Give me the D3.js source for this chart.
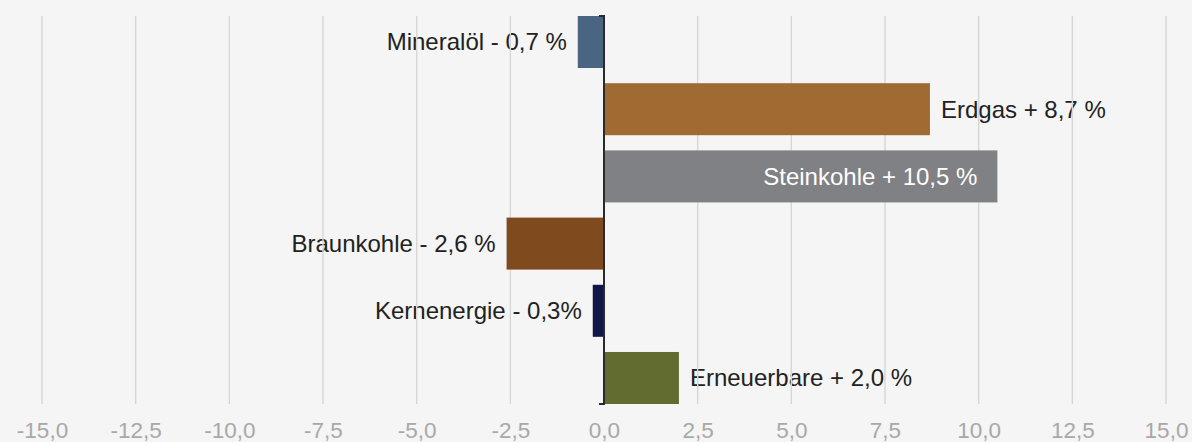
<!DOCTYPE html>
<html>
<head>
<meta charset="utf-8">
<script src="https://cdn.jsdelivr.net/npm/d3@7"></script>
<style>
  html, body { margin: 0; padding: 0; background: #f4f5f4; }
  svg { display: block; font-family: Arial, "Liberation Sans", sans-serif; }
</style>
</head>
<body>
<div id="chart"></div>
<script>
// energy sources and their change in percent
const categories = ["Mineralöl", "Erdgas", "Steinkohle", "Braunkohle", "Kernenergie", "Erneuerbare"];
const values = [-0.7, 8.7, 10.5, -2.6, -0.3, 2.0];
const labels = ["Mineralöl - 0,7 %", "Erdgas + 8,7 %", "Steinkohle + 10,5 %", "Braunkohle - 2,6 %", "Kernenergie - 0,3%", "Erneuerbare + 2,0 %"];
const colors = ["#4a6582", "#a06b33", "#808184", "#7e4a1e", "#0f174a", "#636c30"];
const insideLabel = ["Steinkohle"];
const tickValues = [-15, -12.5, -10, -7.5, -5, -2.5, 0, 2.5, 5, 7.5, 10, 12.5, 15];

const width = 1192, height = 442;

const svg = d3.select("#chart").append("svg")
    .attr("width", width)
    .attr("height", height);

svg.append("rect").attr("width", width).attr("height", height).attr("fill", "#f4f5f4");

const x = d3.scaleLinear().domain([-15, 15]).range([42, 1166]);
const y = d3.scaleBand().domain(categories).range([16, 404]).paddingInner(0.226).paddingOuter(0);

// German decimal comma, plain hyphen for minus
const fmt = v => d3.format(".1f")(v).replace(".", ",").replace("\u2212", "-");

// outside labels (drawn first, the grid lines sit on top of them)
svg.append("g")
    .selectAll("text")
    .data(categories.filter(d => !insideLabel.includes(d)))
    .enter().append("text")
    .attr("y", d => y(d) + y.bandwidth() / 2)
    .attr("dy", "0.35em")
    .attr("fill", "#222")
    .style("font-size", "24px")
    .each(function (d) {
        const i = categories.indexOf(d);
        const v = values[i];
        const t = d3.select(this).text(labels[i]);
        if (v < 0) t.attr("x", x(v) - 11).attr("text-anchor", "end");
        else t.attr("x", x(v) + 11).attr("text-anchor", "start");
    });

// vertical grid
svg.append("g")
    .selectAll("line")
    .data(tickValues)
    .enter().append("line")
    .attr("x1", d => x(d)).attr("x2", d => x(d))
    .attr("y1", 16).attr("y2", 404)
    .attr("stroke", "#d6d6d6")
    .attr("stroke-width", 1.4);

// bars
svg.append("g")
    .selectAll("rect")
    .data(categories)
    .enter().append("rect")
    .attr("x", (d, i) => x(Math.min(0, values[i])))
    .attr("width", (d, i) => Math.abs(x(values[i]) - x(0)))
    .attr("y", d => y(d))
    .attr("height", y.bandwidth())
    .attr("fill", (d, i) => colors[i]);

// inside labels
svg.append("g")
    .selectAll("text")
    .data(insideLabel)
    .enter().append("text")
    .attr("x", d => x(values[categories.indexOf(d)]) - 20)
    .attr("y", d => y(d) + y.bandwidth() / 2)
    .attr("dy", "0.35em")
    .attr("text-anchor", "end")
    .attr("fill", "#ffffff")
    .style("font-size", "24px")
    .text(d => labels[categories.indexOf(d)]);

// zero axis
const axisG = svg.append("g").attr("stroke", "#2a2a2a").attr("stroke-width", 2);
axisG.append("line").attr("x1", x(0)).attr("x2", x(0)).attr("y1", 15).attr("y2", 405);
axisG.append("line").attr("x1", x(0) - 5).attr("x2", x(0)).attr("y1", 16).attr("y2", 16);
axisG.append("line").attr("x1", x(0) - 5).attr("x2", x(0)).attr("y1", 404).attr("y2", 404);

// tick labels
const xAxis = d3.axisBottom(x)
    .tickValues(tickValues)
    .tickSize(0)
    .tickPadding(0)
    .tickFormat(fmt);

const ax = svg.append("g")
    .attr("transform", "translate(0,422)")
    .call(xAxis);
ax.select(".domain").remove();
ax.selectAll("text")
    .attr("dy", "0.72em")
    .attr("fill", "#a8a8a8")
    .style("font-size", "22.5px")
    .style("font-family", "Arial, 'Liberation Sans', sans-serif");
</script>
</body>
</html>
